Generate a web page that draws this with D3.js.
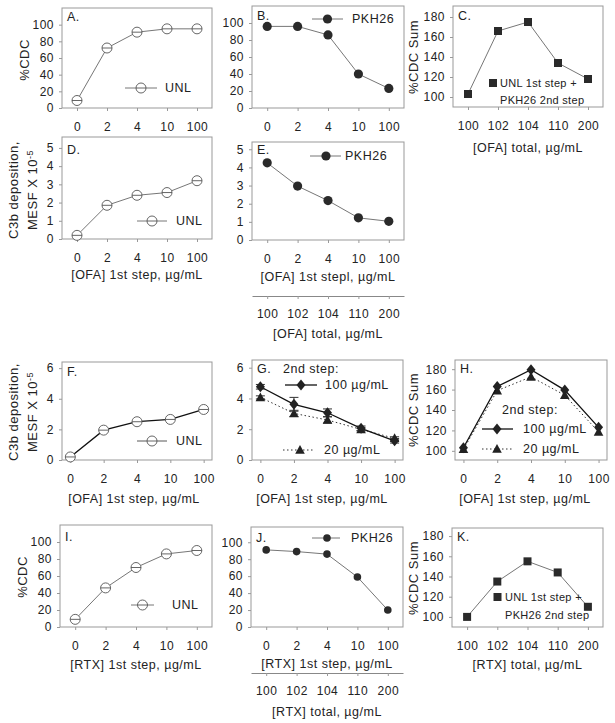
<!DOCTYPE html>
<html>
<head>
<meta charset="utf-8">
<script src="https://cdn.jsdelivr.net/npm/d3@7"></script>
<style>
  body { margin: 0; background: #fff; }
  svg text { font-family: "Liberation Sans", Arial, sans-serif; fill: #222; }
</style>
</head>
<body>
<svg id="fig" width="615" height="723"></svg>
<script>
// tick labels
var doseLabels = ["0", "2", "4", "10", "100"];
var totalLabels = ["100", "102", "104", "110", "200"];

// OFA, %CDC
var cdcUnlOFA = [9, 72, 91, 95, 95];
var cdcPkhOFA = [96, 96, 86, 40, 23];
var cdcSumOFA = [103, 166, 175, 134, 118];
// OFA, C3b deposition
var c3bUnlOFA = [0.2, 1.85, 2.4, 2.55, 3.2];
var c3bPkhOFA = [4.25, 2.97, 2.17, 1.22, 1.03];
var c3bUnlOFA2 = [0.2, 1.95, 2.5, 2.65, 3.3];
var c3b100 = [4.76, 3.62, 3.07, 2.06, 1.25];
var c3b100Err = [0.15, 0.45, 0.25, 0.15, 0.15];
var c3b20 = [4.07, 3.03, 2.6, 1.99, 1.41];
var c3b20Err = [0.1, 0.2, 0.2, 0.1, 0.1];
var sum100 = [103, 163, 179.5, 159.5, 123];
var sum20 = [101.5, 159, 172.5, 154.5, 118.5];
// RTX, %CDC
var cdcUnlRTX = [9, 46, 70, 86, 90];
var cdcPkhRTX = [91, 89, 86, 59, 20];
var cdcSumRTX = [100, 135, 155, 144, 110];

var svg = d3.select("#fig");
var FS = 12, LS = 0.5;

var diamond = "M0,-5.5L4.5,0L0,5.5L-4.5,0Z";
var triangle = "M0,-5L4.8,3.8L-4.8,3.8Z";

function txt(x, y, s, anchor, size, ls) {
  return svg.append("text")
    .attr("x", x).attr("y", y)
    .attr("dy", "0.35em")
    .attr("text-anchor", anchor || "start")
    .style("font-size", (size || 12.5) + "px")
    .style("letter-spacing", (ls == null ? LS : ls) + "px")
    .text(s);
}

function vtxt(x, y, size) {
  return svg.append("text")
    .attr("transform", "translate(" + x + "," + y + ") rotate(-90)")
    .attr("dy", "0.35em")
    .attr("text-anchor", "middle")
    .style("font-size", (size || 13) + "px")
    .style("letter-spacing", LS + "px");
}

function marker(g, type, x, y, r) {
  if (type == "open") {
    g.append("circle").attr("cx", x).attr("cy", y).attr("r", 5)
      .attr("fill", "#fff").attr("stroke", "#555").attr("stroke-width", 0.9);
    g.append("line").attr("x1", x - 5).attr("x2", x + 5).attr("y1", y).attr("y2", y)
      .attr("stroke", "#555").attr("stroke-width", 0.9);
  } else if (type == "dot") {
    g.append("circle").attr("cx", x).attr("cy", y).attr("r", r || 4.6).attr("fill", "#2a2a2a");
  } else if (type == "square") {
    g.append("rect").attr("x", x - 4).attr("y", y - 4).attr("width", 8).attr("height", 8).attr("fill", "#2a2a2a");
  } else if (type == "diamond") {
    g.append("path").attr("d", diamond).attr("transform", "translate(" + x + "," + y + ")").attr("fill", "#222");
  } else if (type == "triangle") {
    g.append("path").attr("d", triangle).attr("transform", "translate(" + x + "," + y + ")").attr("fill", "#222");
  }
}

function styleAxis(a) {
  a.selectAll(".tick line").attr("stroke", "#999");
  a.selectAll("text").style("font-size", FS + "px").style("letter-spacing", LS + "px")
    .attr("fill", "#222").style("font-family", "Liberation Sans, Arial, sans-serif");
}

function drawPanel(p) {
  var x = d3.scaleLinear().domain(p.xdom).range([p.l, p.r]);
  var y = d3.scaleLinear().domain(p.ydom).range([p.b, p.t]);
  var g = svg.append("g");

  g.append("rect").attr("x", p.l).attr("y", p.t)
    .attr("width", p.r - p.l).attr("height", p.b - p.t)
    .attr("fill", "none").attr("stroke", "#999").attr("stroke-width", 1);

  var xa = g.append("g").attr("transform", "translate(0," + p.b + ")")
    .call(d3.axisBottom(x).tickValues([0, 1, 2, 3, 4])
      .tickFormat(function (i) { return p.xlabels[i]; })
      .tickSize(3).tickPadding(11));
  var ya = g.append("g").attr("transform", "translate(" + p.l + ",0)")
    .call(d3.axisLeft(y).tickValues(p.yticks).tickFormat(d3.format("d"))
      .tickSize(3).tickPadding(5));
  [xa, ya].forEach(function (a) {
    a.select(".domain").remove();
    styleAxis(a);
  });

  if (p.total) {
    var sa = g.append("g").attr("transform", "translate(0," + p.total.y + ")")
      .call(d3.axisBottom(x).tickValues([0, 1, 2, 3, 4])
        .tickFormat(function (i) { return totalLabels[i]; })
        .tickSize(3).tickSizeOuter(0).tickPadding(10));
    sa.select(".domain").attr("stroke", "#888");
    styleAxis(sa);
    txt((p.l + p.r) / 2, p.total.ty, p.total.title, "middle");
  }

  p.series.forEach(function (s) {
    var line = d3.line().x(function (d, i) { return x(i); }).y(function (d) { return y(d); });
    g.append("path").datum(s.values).attr("d", line)
      .attr("fill", "none").attr("stroke", s.color || "#666")
      .attr("stroke-width", s.width || 0.9)
      .attr("stroke-dasharray", s.dash || null);
    if (s.err) {
      s.values.forEach(function (v, i) {
        var e = s.err[i], cx = x(i);
        g.append("line").attr("x1", cx).attr("x2", cx).attr("y1", y(v - e)).attr("y2", y(v + e))
          .attr("stroke", "#333").attr("stroke-width", 1);
        [v - e, v + e].forEach(function (w) {
          g.append("line").attr("x1", cx - 4.5).attr("x2", cx + 4.5).attr("y1", y(w)).attr("y2", y(w))
            .attr("stroke", "#333").attr("stroke-width", 1);
        });
      });
    }
    s.values.forEach(function (v, i) { marker(g, s.marker, x(i), y(v), s.r); });
  });

  txt(p.l + 5, p.letterY, p.letter, "start", 12.5);
  if (p.xtitle) txt(p.xtitleX || (p.l + p.r) / 2, p.xtitleY, p.xtitle, "middle");

  (p.legend || []).forEach(function (L) {
    if (L.line) {
      g.append("line").attr("x1", L.line[0]).attr("x2", L.line[1]).attr("y1", L.y).attr("y2", L.y)
        .attr("stroke", L.color || "#666").attr("stroke-width", L.width || 0.9)
        .attr("stroke-dasharray", L.dash || null);
    }
    if (L.marker) marker(g, L.marker, L.mx, L.y, L.r);
    txt(L.tx, L.y, L.text, "start", L.size || 12.5, L.ls);
    if (L.text2) txt(L.tx, L.y2, L.text2, "start", L.size || 12.5, L.ls);
  });
}

var cdcTicks = [0, 20, 40, 60, 80, 100];
var sumTicks = [100, 120, 140, 160, 180];
var ofa1 = "[OFA] 1st step, \u00b5g/mL";
var ofaT = "[OFA] total, \u00b5g/mL";
var rtx1 = "[RTX] 1st step, \u00b5g/mL";
var rtxT = "[RTX] total, \u00b5g/mL";
var dark = "#111";

var panels = [
  { letter: "A.", l: 62, t: 8, r: 212, b: 108, xdom: [-0.5, 4.5], ydom: [0, 120], yticks: cdcTicks,
    xlabels: doseLabels, letterY: 17,
    series: [{ values: cdcUnlOFA, marker: "open" }],
    legend: [{ line: [125, 157], mx: 141, marker: "open", y: 88, tx: 165, text: "UNL" }] },
  { letter: "B.", l: 252, t: 6, r: 404, b: 108, xdom: [-0.5, 4.5], ydom: [0, 120], yticks: cdcTicks,
    xlabels: doseLabels, letterY: 16,
    series: [{ values: cdcPkhOFA, marker: "dot" }],
    legend: [{ line: [312, 343], mx: 327.5, marker: "dot", y: 19, tx: 352, text: "PKH26" }] },
  { letter: "C.", l: 453, t: 6, r: 603, b: 107, xdom: [-0.5, 4.5], ydom: [90, 191], yticks: sumTicks,
    xlabels: totalLabels, letterY: 16, xtitle: ofaT, xtitleY: 148,
    series: [{ values: cdcSumOFA, marker: "square" }],
    legend: [{ mx: 493, marker: "square", y: 83, tx: 500, text: "UNL 1st step +", y2: 100,
      text2: "PKH26 2nd step", size: 11, ls: 0.3 }] },
  { letter: "D.", l: 62, t: 137, r: 212, b: 239, xdom: [-0.5, 4.5], ydom: [0, 5.6], yticks: [0, 1, 2, 3, 4, 5],
    xlabels: doseLabels, letterY: 150, xtitle: ofa1, xtitleY: 275,
    series: [{ values: c3bUnlOFA, marker: "open" }],
    legend: [{ line: [137, 167], mx: 152, marker: "open", y: 221, tx: 176, text: "UNL" }] },
  { letter: "E.", l: 252, t: 142, r: 404, b: 240, xdom: [-0.5, 4.5], ydom: [0, 5.4], yticks: [0, 1, 2, 3, 4, 5],
    xlabels: doseLabels, letterY: 150, xtitle: "[OFA] 1st stepl, \u00b5g/mL", xtitleY: 277,
    total: { y: 296, ty: 334, title: ofaT },
    series: [{ values: c3bPkhOFA, marker: "dot" }],
    legend: [{ line: [310, 341], mx: 326, marker: "dot", y: 156, tx: 345, text: "PKH26" }] },
  { letter: "F.", l: 62, t: 362, r: 212, b: 460, xdom: [-0.25, 4.25], ydom: [0, 6.4], yticks: [0, 2, 4, 6],
    xlabels: doseLabels, letterY: 372, xtitle: ofa1, xtitleY: 499, xtitleX: 134,
    series: [{ values: c3bUnlOFA2, marker: "open", color: dark, width: 1.3 }],
    legend: [{ line: [137, 167], mx: 152, marker: "open", y: 441, tx: 176, text: "UNL", color: "#444" }] },
  { letter: "G.", l: 252, t: 360, r: 403, b: 460, xdom: [-0.25, 4.25], ydom: [0, 6.5], yticks: [0, 2, 4, 6],
    xlabels: doseLabels, letterY: 369, xtitle: ofa1, xtitleY: 499, xtitleX: 322,
    series: [
      { values: c3b20, err: c3b20Err, marker: "triangle", color: "#333", width: 1, dash: "1.5,2.5" },
      { values: c3b100, err: c3b100Err, marker: "diamond", color: dark, width: 1.3 }],
    legend: [
      { y: 369, tx: 283, text: "2nd step:" },
      { line: [285, 317], mx: 301, marker: "diamond", y: 385, tx: 325, text: "100 \u00b5g/mL", color: dark, width: 1.3 },
      { line: [283, 315], mx: 300, marker: "triangle", y: 450, tx: 324, text: "20 \u00b5g/mL", color: "#333", width: 1, dash: "1.5,2.5" }] },
  { letter: "H.", l: 455, t: 360, r: 607, b: 460, xdom: [-0.25, 4.25], ydom: [91, 189], yticks: sumTicks,
    xlabels: doseLabels, letterY: 369, xtitle: ofa1, xtitleY: 499, xtitleX: 525,
    series: [
      { values: sum20, marker: "triangle", color: "#333", width: 1, dash: "1.5,2.5" },
      { values: sum100, marker: "diamond", color: dark, width: 1.3 }],
    legend: [
      { y: 410, tx: 502, text: "2nd step:" },
      { line: [482, 513], mx: 497, marker: "diamond", y: 429, tx: 523, text: "100 \u00b5g/mL", color: dark, width: 1.3 },
      { line: [482, 513], mx: 497, marker: "triangle", y: 449, tx: 523, text: "20 \u00b5g/mL", color: "#333", width: 1, dash: "1.5,2.5" }] },
  { letter: "I.", l: 60, t: 525, r: 212, b: 627, xdom: [-0.5, 4.5], ydom: [0, 120], yticks: cdcTicks,
    xlabels: doseLabels, letterY: 537, xtitle: rtx1, xtitleY: 665, xtitleX: 136,
    series: [{ values: cdcUnlRTX, marker: "open" }],
    legend: [{ line: [131, 154], mx: 142.5, marker: "open", y: 605, tx: 172, text: "UNL" }] },
  { letter: "J.", l: 251, t: 527, r: 403, b: 627, xdom: [-0.5, 4.5], ydom: [0, 118], yticks: cdcTicks,
    xlabels: doseLabels, letterY: 538, xtitle: rtx1, xtitleY: 664,
    total: { y: 673, ty: 712, title: rtxT },
    series: [{ values: cdcPkhRTX, marker: "dot", r: 3.8 }],
    legend: [{ line: [312, 340], mx: 327, marker: "dot", r: 3.8, y: 538, tx: 351, text: "PKH26" }] },
  { letter: "K.", l: 452, t: 528, r: 603, b: 627, xdom: [-0.5, 4.5], ydom: [90, 188], yticks: sumTicks,
    xlabels: totalLabels, letterY: 537, xtitle: rtxT, xtitleY: 665,
    series: [{ values: cdcSumRTX, marker: "square" }],
    legend: [{ mx: 497.5, marker: "square", y: 597, tx: 505, text: "UNL 1st step +", y2: 615,
      text2: "PKH26 2nd step", size: 11, ls: 0.3 }] }
];

panels.forEach(drawPanel);

// y-axis titles
vtxt(24, 60).text("%CDC");
vtxt(22, 577).text("%CDC");
vtxt(413, 57).text("%CDC Sum");
vtxt(413, 410).text("%CDC Sum");
vtxt(413, 578).text("%CDC Sum");

function c3bTitle(cy) {
  vtxt(13, cy).text("C3b deposition,");
  var t = vtxt(32, cy);
  t.append("tspan").text("MESF X 10");
  t.append("tspan").attr("dy", "-0.45em").style("font-size", "9px").text("-5");
}
c3bTitle(190);
c3bTitle(412);
</script>
</body>
</html>
